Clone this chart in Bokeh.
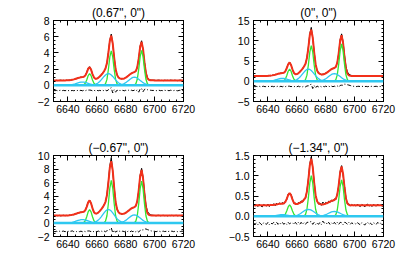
from bokeh.plotting import figure
from bokeh.models import FixedTicker, LinearAxis, Range1d, Span, Title
from bokeh.layouts import gridplot
from bokeh.embed import file_html
from bokeh.resources import INLINE

# ---------------- data ----------------
WAVE = list(range(6630, 6721))
NARROW_WAVES = [list(range(6650, 6661)), list(range(6665, 6676)), list(range(6686, 6697))]
BROAD_WAVES = [list(range(6640, 6661)), list(range(6658, 6679)), list(range(6676, 6697))]

TITLES = ['(0.67", 0")', '(0", 0")', '(\u22120.67", 0")', '(\u22121.34", 0")']

# Panel 1 (0.67", 0")
FIT_1 = [0.60,0.60,0.60,0.60,0.60,0.60,0.60,0.60,0.60,0.61,
         0.62,0.63,0.65,0.69,0.73,0.78,0.84,0.90,0.95,0.99,
         1.01,1.05,1.20,1.57,2.04,2.24,1.94,1.38,0.97,0.81,
         0.82,0.92,1.08,1.27,1.48,1.73,2.07,2.74,4.00,5.50,
         6.13,5.19,3.43,2.00,1.27,0.97,0.84,0.80,0.80,0.85,
         0.94,1.07,1.21,1.36,1.48,1.57,1.63,1.76,2.22,3.32,
         4.75,5.36,4.46,2.79,1.48,0.87,0.68,0.62,0.61,0.61,
         0.60,0.60,0.60,0.60,0.60,0.60,0.60,0.60,0.60,0.60,
         0.60,0.60,0.60,0.60,0.60,0.60,0.60,0.60,0.60,0.60,
         0.60]
OBS_1 = [0.63,0.58,0.62,0.57,0.61,0.64,0.59,0.62,0.58,0.63,
         0.60,0.65,0.63,0.70,0.71,0.80,0.82,0.93,0.94,1.02,
         0.98,1.08,1.18,1.62,2.10,2.30,1.98,1.35,1.00,0.78,
         0.85,0.90,1.10,1.25,1.52,1.70,2.12,2.70,4.10,5.60,
         6.32,5.05,3.50,1.92,1.33,0.93,0.87,0.78,0.83,0.82,
         0.97,1.04,1.25,1.33,1.52,1.55,1.68,1.72,2.30,3.25,
         4.85,5.50,4.40,2.90,1.62,0.98,0.74,0.66,0.63,0.62,
         0.63,0.58,0.62,0.64,0.59,0.61,0.57,0.63,0.60,0.62,
         0.58,0.64,0.61,0.59,0.63,0.60,0.57,0.62,0.64,0.59,
         0.61]
RES_1 = [-0.62,-0.67,-0.63,-0.68,-0.64,-0.61,-0.66,-0.63,-0.67,-0.62,
         -0.67,-0.63,-0.67,-0.64,-0.67,-0.63,-0.67,-0.62,-0.66,-0.62,
         -0.68,-0.62,-0.67,-0.60,-0.59,-0.59,-0.61,-0.68,-0.62,-0.68,
         -0.62,-0.67,-0.63,-0.67,-0.61,-0.68,-0.60,-0.69,-0.55,-0.40,
         -0.30,-0.95,-0.55,-0.85,-0.59,-0.69,-0.62,-0.67,-0.62,-0.68,
         -0.62,-0.68,-0.61,-0.68,-0.61,-0.67,-0.60,-0.69,-0.57,-0.85,
         -0.45,-0.40,-0.80,-0.50,-0.45,-0.54,-0.59,-0.61,-0.63,-0.64,
         -0.62,-0.67,-0.63,-0.61,-0.66,-0.64,-0.68,-0.62,-0.65,-0.63,
         -0.67,-0.61,-0.64,-0.66,-0.62,-0.65,-0.68,-0.63,-0.61,-0.66,
         -0.64]
NARROW_1 = [[0.01,0.06,0.25,0.66,1.19,1.45,1.19,0.66,0.25,0.06,0.01],
            [0.03,0.19,0.73,1.95,3.50,4.25,3.50,1.95,0.73,0.19,0.03],
            [0.03,0.19,0.74,1.97,3.54,4.30,3.54,1.97,0.74,0.19,0.03]]
BROAD_1 = [[0.018,0.032,0.054,0.086,0.130,0.183,0.243,0.302,0.353,0.388,0.400,
            0.388,0.353,0.302,0.243,0.183,0.130,0.086,0.054,0.032,0.018],
           [0.064,0.116,0.196,0.313,0.471,0.664,0.880,1.095,1.279,1.405,1.450,
            1.405,1.279,1.095,0.880,0.664,0.471,0.313,0.196,0.116,0.064],
           [0.044,0.080,0.135,0.216,0.325,0.458,0.607,0.755,0.882,0.969,1.000,
            0.969,0.882,0.755,0.607,0.458,0.325,0.216,0.135,0.080,0.044]]

# Panel 2 (0", 0")
FIT_2 = [1.30,1.30,1.30,1.30,1.30,1.30,1.30,1.30,1.31,1.32,
         1.33,1.36,1.39,1.45,1.53,1.62,1.72,1.83,1.92,1.98,
         2.02,2.11,2.43,3.20,4.19,4.64,4.03,2.89,2.04,1.73,
         1.76,1.96,2.28,2.68,3.12,3.63,4.33,5.72,8.33,11.45,
         12.75,10.81,7.15,4.20,2.68,2.06,1.79,1.69,1.69,1.78,
         1.95,2.19,2.45,2.74,2.98,3.14,3.27,3.55,4.56,6.95,
         10.03,11.37,9.49,5.92,3.14,1.86,1.45,1.34,1.32,1.31,
         1.30,1.30,1.30,1.30,1.30,1.30,1.30,1.30,1.30,1.30,
         1.30,1.30,1.30,1.30,1.30,1.30,1.30,1.30,1.30,1.30,
         1.30]
OBS_2 = [1.36,1.25,1.33,1.27,1.35,1.24,1.32,1.37,1.26,1.35,
         1.30,1.41,1.35,1.50,1.49,1.68,1.70,1.90,1.88,2.05,
         1.97,2.18,2.40,3.30,4.28,4.72,4.00,2.95,1.98,1.80,
         1.70,2.05,2.22,2.75,3.05,3.72,4.25,5.85,8.50,11.80,
         13.30,10.60,7.40,4.05,2.80,1.98,1.88,1.62,1.76,1.72,
         2.05,2.12,2.55,2.68,3.08,3.10,3.35,3.48,4.70,6.80,
         10.30,11.70,9.80,6.50,3.70,2.30,1.80,1.55,1.42,1.36,
         1.34,1.27,1.33,1.36,1.26,1.31,1.35,1.28,1.33,1.25,
         1.34,1.29,1.36,1.27,1.32,1.35,1.26,1.33,1.30,1.37,
         1.28]
RES_2 = [-1.25,-1.36,-1.28,-1.34,-1.24,-1.37,-1.29,-1.24,-1.35,-1.27,
         -1.33,-1.22,-1.30,-1.25,-1.35,-1.23,-1.33,-1.22,-1.35,-1.24,
         -1.36,-1.22,-1.34,-1.20,-1.22,-1.23,-1.33,-1.24,-1.37,-1.23,
         -1.37,-1.21,-1.36,-1.23,-1.37,-1.21,-1.38,-1.17,-1.13,-0.85,
         -0.75,-1.80,-1.05,-1.65,-1.18,-1.38,-1.21,-1.38,-1.23,-1.36,
         -1.20,-1.37,-1.20,-1.36,-1.20,-1.34,-1.22,-1.37,-1.16,-1.45,
         -1.03,-0.97,-0.99,-0.72,-0.74,-0.86,-0.95,-1.05,-1.18,-1.24,
         -1.26,-1.33,-1.27,-1.24,-1.34,-1.29,-1.25,-1.32,-1.27,-1.35,
         -1.26,-1.31,-1.24,-1.33,-1.28,-1.25,-1.34,-1.27,-1.30,-1.23,
         -1.32]
NARROW_2 = [[0.02,0.13,0.52,1.37,2.47,3.00,2.47,1.37,0.52,0.13,0.02],
            [0.07,0.39,1.51,4.03,7.24,8.80,7.24,4.03,1.51,0.39,0.07],
            [0.07,0.40,1.58,4.21,7.57,9.20,7.57,4.21,1.58,0.40,0.07]]
BROAD_2 = [[0.031,0.056,0.095,0.151,0.228,0.321,0.425,0.529,0.617,0.678,0.700,
            0.678,0.617,0.529,0.425,0.321,0.228,0.151,0.095,0.056,0.031],
           [0.132,0.240,0.405,0.648,0.975,1.374,1.821,2.265,2.646,2.907,3.000,
            2.907,2.646,2.265,1.821,1.374,0.975,0.648,0.405,0.240,0.132],
           [0.084,0.152,0.257,0.410,0.618,0.870,1.153,1.435,1.676,1.841,1.900,
            1.841,1.676,1.435,1.153,0.870,0.618,0.410,0.257,0.152,0.084]]

# Panel 3 (-0.67", 0")
FIT_3 = [1.10,1.10,1.10,1.10,1.10,1.10,1.10,1.10,1.11,1.11,
         1.12,1.14,1.17,1.21,1.26,1.33,1.40,1.48,1.54,1.58,
         1.62,1.67,1.89,2.39,3.05,3.34,2.93,2.17,1.60,1.39,
         1.41,1.54,1.76,2.02,2.31,2.66,3.14,4.12,5.99,8.22,
         9.16,7.80,5.20,3.11,2.04,1.61,1.42,1.36,1.35,1.41,
         1.51,1.66,1.83,2.01,2.16,2.26,2.35,2.54,3.22,4.85,
         6.93,7.85,6.59,4.20,2.33,1.47,1.20,1.13,1.11,1.11,
         1.10,1.10,1.10,1.10,1.10,1.10,1.10,1.10,1.10,1.10,
         1.10,1.10,1.10,1.10,1.10,1.10,1.10,1.10,1.10,1.10,
         1.10]
OBS_3 = [1.15,1.06,1.12,1.07,1.14,1.05,1.11,1.15,1.07,1.13,
         1.09,1.18,1.14,1.25,1.23,1.37,1.38,1.52,1.51,1.62,
         1.58,1.72,1.86,2.45,3.12,3.40,2.90,2.22,1.56,1.43,
         1.37,1.60,1.72,2.08,2.27,2.72,3.10,4.22,6.15,8.50,
         9.70,7.60,5.40,3.00,2.12,1.56,1.48,1.31,1.40,1.37,
         1.58,1.62,1.90,1.97,2.22,2.22,2.42,2.48,3.32,4.75,
         7.10,8.10,6.80,4.55,2.70,1.75,1.40,1.25,1.17,1.14,
         1.12,1.06,1.13,1.15,1.07,1.11,1.14,1.08,1.12,1.05,
         1.13,1.09,1.15,1.07,1.11,1.14,1.06,1.12,1.09,1.15,
         1.08]
RES_3 = [-1.20,-1.30,-1.23,-1.28,-1.21,-1.31,-1.24,-1.20,-1.29,-1.22,
         -1.28,-1.17,-1.23,-1.16,-1.28,-1.21,-1.27,-1.21,-1.28,-1.21,
         -1.29,-1.20,-1.28,-1.19,-1.18,-1.19,-1.28,-1.20,-1.29,-1.21,
         -1.29,-1.19,-1.29,-1.19,-1.29,-1.19,-1.29,-1.15,-1.09,-0.97,
         -0.71,-1.45,-1.05,-1.36,-1.17,-1.30,-1.19,-1.30,-1.20,-1.29,
         -1.18,-1.29,-1.18,-1.29,-1.19,-1.29,-1.18,-1.31,-1.15,-1.35,
         -1.08,-1.00,-1.04,-0.90,-0.88,-0.97,-1.05,-1.13,-1.19,-1.21,
         -1.23,-1.29,-1.22,-1.20,-1.28,-1.24,-1.21,-1.27,-1.23,-1.30,
         -1.22,-1.26,-1.20,-1.28,-1.24,-1.21,-1.29,-1.23,-1.26,-1.20,
         -1.27]
NARROW_3 = [[0.02,0.09,0.34,0.92,1.65,2.00,1.65,0.92,0.34,0.09,0.02],
            [0.05,0.28,1.08,2.89,5.18,6.30,5.18,2.89,1.08,0.28,0.05],
            [0.05,0.27,1.07,2.84,5.10,6.20,5.10,2.84,1.07,0.27,0.05]]
BROAD_3 = [[0.022,0.040,0.068,0.108,0.163,0.229,0.304,0.378,0.441,0.485,0.500,
            0.485,0.441,0.378,0.304,0.229,0.163,0.108,0.068,0.040,0.022],
           [0.088,0.160,0.270,0.432,0.650,0.916,1.214,1.510,1.764,1.938,2.000,
            1.938,1.764,1.510,1.214,0.916,0.650,0.432,0.270,0.160,0.088],
           [0.053,0.096,0.162,0.259,0.390,0.550,0.728,0.906,1.058,1.163,1.200,
            1.163,1.058,0.906,0.728,0.550,0.390,0.259,0.162,0.096,0.053]]

# Panel 4 (-1.34", 0")
FIT_4 = [0.27,0.27,0.27,0.27,0.27,0.27,0.27,0.27,0.27,0.27,
         0.27,0.27,0.28,0.28,0.28,0.29,0.29,0.30,0.31,0.31,
         0.31,0.32,0.35,0.43,0.52,0.57,0.52,0.41,0.33,0.30,
         0.30,0.31,0.33,0.35,0.37,0.41,0.46,0.61,0.90,1.26,
         1.42,1.22,0.83,0.52,0.37,0.32,0.30,0.29,0.29,0.30,
         0.31,0.33,0.34,0.36,0.38,0.39,0.40,0.43,0.53,0.77,
         1.08,1.23,1.05,0.71,0.44,0.32,0.28,0.27,0.27,0.27,
         0.27,0.27,0.27,0.27,0.27,0.27,0.27,0.27,0.27,0.27,
         0.27,0.27,0.27,0.27,0.27,0.27,0.27,0.27,0.27,0.27,
         0.27]
OBS_4 = [0.29,0.25,0.28,0.24,0.30,0.26,0.23,0.29,0.27,0.25,
         0.30,0.24,0.29,0.27,0.31,0.26,0.32,0.28,0.33,0.30,
         0.34,0.30,0.37,0.41,0.55,0.56,0.54,0.43,0.31,0.33,
         0.28,0.34,0.31,0.38,0.35,0.43,0.44,0.64,0.93,1.30,
         1.47,1.20,0.86,0.50,0.39,0.30,0.33,0.27,0.35,0.31,
         0.34,0.31,0.37,0.34,0.40,0.37,0.43,0.41,0.56,0.75,
         1.11,1.25,1.02,0.74,0.46,0.30,0.31,0.25,0.29,0.26,
         0.28,0.25,0.30,0.26,0.24,0.29,0.27,0.23,0.28,0.30,
         0.25,0.28,0.24,0.29,0.27,0.25,0.30,0.26,0.28,0.24,
         0.27]
RES_4 = [-0.16,-0.20,-0.17,-0.21,-0.15,-0.19,-0.22,-0.16,-0.18,-0.20,
         -0.15,-0.21,-0.17,-0.19,-0.15,-0.21,-0.15,-0.20,-0.16,-0.19,
         -0.15,-0.20,-0.16,-0.20,-0.15,-0.19,-0.16,-0.16,-0.20,-0.15,
         -0.20,-0.15,-0.20,-0.15,-0.20,-0.16,-0.20,-0.15,-0.15,-0.14,
         -0.13,-0.20,-0.15,-0.20,-0.16,-0.20,-0.15,-0.20,-0.12,-0.17,
         -0.15,-0.20,-0.15,-0.20,-0.16,-0.20,-0.15,-0.20,-0.15,-0.20,
         -0.15,-0.16,-0.21,-0.15,-0.16,-0.20,-0.15,-0.20,-0.16,-0.19,
         -0.17,-0.20,-0.16,-0.19,-0.21,-0.16,-0.18,-0.22,-0.17,-0.15,
         -0.20,-0.17,-0.21,-0.16,-0.18,-0.20,-0.15,-0.19,-0.17,-0.21,
         -0.18]
NARROW_4 = [[0.002,0.012,0.048,0.128,0.230,0.280,0.230,0.128,0.048,0.012,0.002],
            [0.008,0.044,0.172,0.458,0.823,1.000,0.823,0.458,0.172,0.044,0.008],
            [0.007,0.040,0.155,0.412,0.741,0.900,0.741,0.412,0.155,0.040,0.007]]
BROAD_4 = [[0.002,0.003,0.005,0.009,0.013,0.018,0.024,0.030,0.035,0.039,0.040,
            0.039,0.035,0.030,0.024,0.018,0.013,0.009,0.005,0.003,0.002],
           [0.007,0.014,0.023,0.037,0.055,0.078,0.103,0.128,0.150,0.165,0.170,
            0.165,0.150,0.128,0.103,0.078,0.055,0.037,0.023,0.014,0.007],
           [0.005,0.010,0.016,0.026,0.039,0.055,0.073,0.091,0.106,0.116,0.120,
            0.116,0.106,0.091,0.073,0.055,0.039,0.026,0.016,0.010,0.005]]

X_TICKS = [6640, 6660, 6680, 6700, 6720]
X_MINOR = list(range(6630, 6721, 5))
Y_RANGES = [(-2, 8), (-5, 15), (-2, 10), (-0.5, 1.5)]
Y_TICKS = [[-2, 0, 2, 4, 6, 8], [-5, 0, 5, 10, 15], [-2, 0, 2, 4, 6, 8, 10],
           [-0.5, 0.0, 0.5, 1.0, 1.5]]
Y_LABELS = [["\u22122", "0", "2", "4", "6", "8"],
            ["\u22125", "0", "5", "10", "15"],
            ["\u22122", "0", "2", "4", "6", "8", "10"],
            ["\u22120.5", "0.0", "0.5", "1.0", "1.5"]]
Y_MINOR = [[-2 + 0.5 * k for k in range(21)], [-5 + 1 * k for k in range(21)],
           [-2 + 0.5 * k for k in range(25)], [-0.5 + 0.1 * k for k in range(21)]]

FITS = [FIT_1, FIT_2, FIT_3, FIT_4]
OBSS = [OBS_1, OBS_2, OBS_3, OBS_4]
RESS = [RES_1, RES_2, RES_3, RES_4]
NARROWS = [NARROW_1, NARROW_2, NARROW_3, NARROW_4]
BROADS = [BROAD_1, BROAD_2, BROAD_3, BROAD_4]

RED = "#f2301a"
GREEN = "#33e633"
CYAN = "#2ec8f0"
FONT = "Liberation Sans"


def style_axis(ax, show_labels, standoff):
    ax.axis_line_color = "black"
    ax.major_tick_line_color = "black"
    ax.minor_tick_line_color = "black"
    ax.major_tick_in = 5
    ax.major_tick_out = 0
    ax.minor_tick_in = 2
    ax.minor_tick_out = 0
    ax.major_label_text_font = FONT
    ax.major_label_standoff = standoff
    if show_labels:
        ax.major_label_text_font_size = "10.5px"
        ax.major_label_text_color = "black"
    else:
        ax.major_label_text_font_size = "0px"
        ax.major_label_text_color = None


def make_panel(i, top_border, bottom_border, right_border):
    y0, y1 = Y_RANGES[i]
    p = figure(frame_width=130, frame_height=81,
               x_range=Range1d(6630, 6720), y_range=Range1d(y0, y1),
               output_backend="svg", toolbar_location=None,
               x_axis_type=None, y_axis_type=None,
               min_border_left=53, min_border_right=right_border,
               min_border_top=top_border, min_border_bottom=bottom_border)
    p.outline_line_color = "black"
    p.outline_line_width = 1
    p.background_fill_color = "white"
    p.border_fill_color = "white"

    p.title = Title(text=TITLES[i], align="center", text_font=FONT,
                    text_font_size="12px", text_font_style="normal",
                    text_color="black", standoff=2)

    xt = FixedTicker(ticks=X_TICKS, minor_ticks=X_MINOR)
    yt = FixedTicker(ticks=Y_TICKS[i], minor_ticks=Y_MINOR[i])
    overrides = {t: s for t, s in zip(Y_TICKS[i], Y_LABELS[i])}

    below = LinearAxis(ticker=xt)
    style_axis(below, True, 3)
    p.add_layout(below, "below")
    above = LinearAxis(ticker=xt)
    style_axis(above, False, 0)
    p.add_layout(above, "above")
    left = LinearAxis(ticker=yt, major_label_overrides=overrides)
    style_axis(left, True, 4)
    p.add_layout(left, "left")
    right = LinearAxis(ticker=yt)
    style_axis(right, False, 0)
    p.add_layout(right, "right")

    p.line(WAVE, OBSS[i], line_color="black", line_width=1)
    p.line(WAVE, FITS[i], line_color=RED, line_width=2)
    for k in range(3):
        p.line(NARROW_WAVES[k], NARROWS[i][k], line_color=GREEN, line_width=1.3)
        p.line(BROAD_WAVES[k], BROADS[i][k], line_color=CYAN, line_width=1.3)
    p.add_layout(Span(location=0, dimension="width", line_color=CYAN, line_width=2.5))
    p.line(WAVE, RESS[i], line_color="black", line_width=1, line_dash="4 2 1 2")
    return p


p1 = make_panel(0, 20, 36, 17)
p2 = make_panel(1, 20, 36, 16)
p3 = make_panel(2, 18, 20, 17)
p4 = make_panel(3, 18, 20, 16)

layout = gridplot([[p1, p2], [p3, p4]], toolbar_location=None)
open("out.html", "w").write(file_html(layout, INLINE))
